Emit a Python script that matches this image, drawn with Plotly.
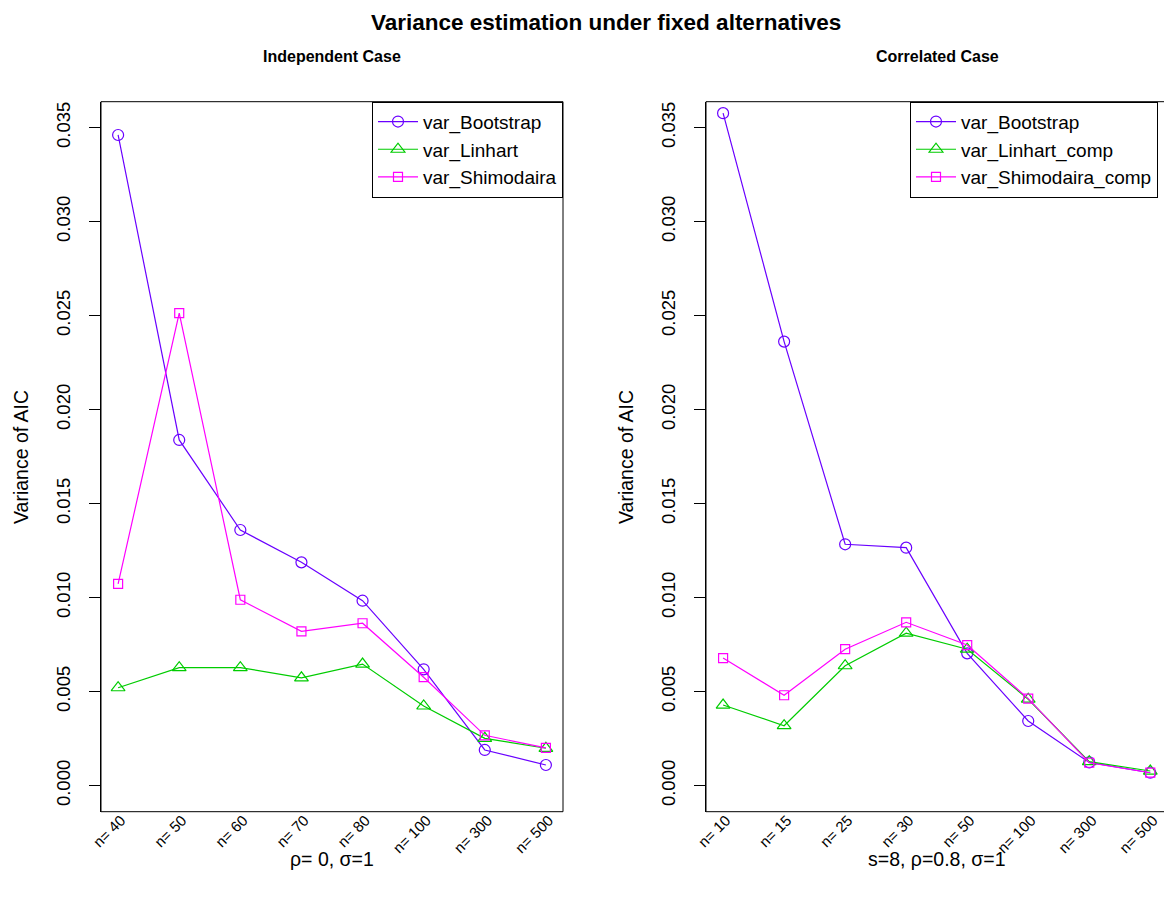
import plotly.graph_objects as go

# ---------------- data ----------------
cats_indep = ["n= 40", "n= 50", "n= 60", "n= 70", "n= 80", "n= 100", "n= 300", "n= 500"]
cats_corr = ["n= 10", "n= 15", "n= 25", "n= 30", "n= 50", "n= 100", "n= 300", "n= 500"]

indep_bootstrap = [0.03461, 0.01839, 0.01360, 0.01188, 0.00984, 0.00619, 0.00190, 0.00110]
indep_linhart = [0.00521, 0.00628, 0.00628, 0.00574, 0.00647, 0.00424, 0.00252, 0.00199]
indep_shimodaira = [0.01073, 0.02513, 0.00989, 0.00821, 0.00864, 0.00577, 0.00268, 0.00201]

corr_bootstrap = [0.03577, 0.02362, 0.01284, 0.01266, 0.00704, 0.00344, 0.00124, 0.00069]
corr_linhart = [0.00429, 0.00319, 0.00638, 0.00811, 0.00726, 0.00460, 0.00128, 0.00078]
corr_shimodaira = [0.00679, 0.00481, 0.00726, 0.00869, 0.00748, 0.00463, 0.00122, 0.00069]

y_ticks = [0.000, 0.005, 0.010, 0.015, 0.020, 0.025, 0.030, 0.035]

# ---------------- style ----------------
W, H = 1164, 903
FONT = "Liberation Sans, Arial, Helvetica, sans-serif"
C_BOOT = "#6A00FF"
C_LIN = "#00CC00"
C_SHI = "#FF00FF"


def px_x(p):
    return p / W


def px_y(p):
    return 1 - p / H


y_dom = [px_y(811.7), px_y(101.7)]
x1_dom = [px_x(101), px_x(563)]
x2_dom = [px_x(706), 1.0]
x2_max = 1 + (W - 723.3) / 61.0

fig = go.Figure()

idx = list(range(1, 9))


def add_series(xaxis, yaxis, legend, vals, name, color, symbol, size):
    fig.add_trace(go.Scatter(
        x=idx, y=vals, name=name, mode="lines+markers",
        xaxis=xaxis, yaxis=yaxis, legend=legend,
        line=dict(color=color, width=1.2),
        marker=dict(symbol=symbol, size=size, color=color,
                    line=dict(color=color, width=1.2)),
    ))


add_series("x", "y", "legend", indep_bootstrap, "var_Bootstrap", C_BOOT, "circle-open", 11)
add_series("x", "y", "legend", indep_linhart, "var_Linhart", C_LIN, "triangle-up-open", 12)
add_series("x", "y", "legend", indep_shimodaira, "var_Shimodaira", C_SHI, "square-open", 9)

add_series("x2", "y2", "legend2", corr_bootstrap, "var_Bootstrap", C_BOOT, "circle-open", 11)
add_series("x2", "y2", "legend2", corr_linhart, "var_Linhart_comp", C_LIN, "triangle-up-open", 12)
add_series("x2", "y2", "legend2", corr_shimodaira, "var_Shimodaira_comp", C_SHI, "square-open", 9)

XTICK_FONT = dict(size=15, color="black", family=FONT)
YTICK_FONT = dict(size=18.5, color="black", family=FONT)
xcommon = dict(showgrid=False, zeroline=False, showline=False, ticks="",
               tickangle=-45, tickfont=XTICK_FONT, automargin=False,
               ticklabeloverflow="allow", ticklabelstandoff=-4, ticklabelshift=3,
               tickmode="array", tickvals=idx)
ycommon = dict(showgrid=False, zeroline=False, showline=True, linecolor="black",
               linewidth=1, ticks="outside", ticklen=11, tickcolor="black",
               tickangle=-90, tickmode="array", tickvals=y_ticks,
               ticktext=[f"{v:.3f}" for v in y_ticks], automargin=False,
               tickfont=YTICK_FONT,
               range=[-0.001383, 0.03638], ticklabelstandoff=12, domain=y_dom)

LEG_FONT = dict(size=19, family=FONT, color="black")
fig.update_layout(
    width=W, height=H,
    margin=dict(l=0, r=0, t=0, b=0, autoexpand=False),
    paper_bgcolor="white", plot_bgcolor="white",
    font=dict(family=FONT, color="black"),
    xaxis=dict(domain=x1_dom, range=[0.72, 8.28], ticktext=cats_indep, anchor="y", **xcommon),
    yaxis=dict(anchor="x", **ycommon),
    xaxis2=dict(domain=x2_dom, range=[0.72, x2_max], ticktext=cats_corr, anchor="y2", **xcommon),
    yaxis2=dict(anchor="x2", **ycommon),
    legend=dict(x=px_x(563), xanchor="right", y=y_dom[1], yanchor="top",
                bordercolor="black", borderwidth=1, bgcolor="white",
                font=LEG_FONT, tracegroupgap=0, itemwidth=40),
    legend2=dict(x=px_x(910), xanchor="left", y=y_dom[1], yanchor="top",
                 bordercolor="black", borderwidth=1, bgcolor="white",
                 font=LEG_FONT, tracegroupgap=0, itemwidth=40),
    showlegend=True,
)

# plot boxes
fig.add_shape(type="rect", xref="x domain", yref="y domain", x0=0, x1=1, y0=0, y1=1,
              line=dict(color="black", width=1), layer="above")
fig.add_shape(type="rect", xref="x2 domain", yref="y2 domain", x0=0, x1=1.05, y0=0, y1=1,
              line=dict(color="black", width=1), layer="above")

ann = [
    dict(text="<b>Variance estimation under fixed alternatives</b>", x=px_x(606), y=px_y(23), size=22.5),
    dict(text="<b>Independent Case</b>", x=px_x(332), y=px_y(56), size=16),
    dict(text="<b>Correlated Case</b>", x=px_x(937), y=px_y(56), size=16),
    dict(text="ρ= 0, σ=1", x=px_x(332), y=px_y(859), size=19.5),
    dict(text="s=8, ρ=0.8, σ=1", x=px_x(937), y=px_y(859), size=19.5),
]
for a in ann:
    fig.add_annotation(text=a["text"], x=a["x"], y=a["y"], xref="paper", yref="paper",
                       showarrow=False, xanchor="center", yanchor="middle",
                       font=dict(size=a["size"], family=FONT, color="black"))
for xp in (21, 626):
    fig.add_annotation(text="Variance of AIC", x=px_x(xp), y=px_y(457), xref="paper", yref="paper",
                       showarrow=False, textangle=-90, xanchor="center", yanchor="middle",
                       font=dict(size=19.5, family=FONT, color="black"))

fig.write_html("out.html", config={"displayModeBar": False},
               post_script="document.body.style.margin='0';")
